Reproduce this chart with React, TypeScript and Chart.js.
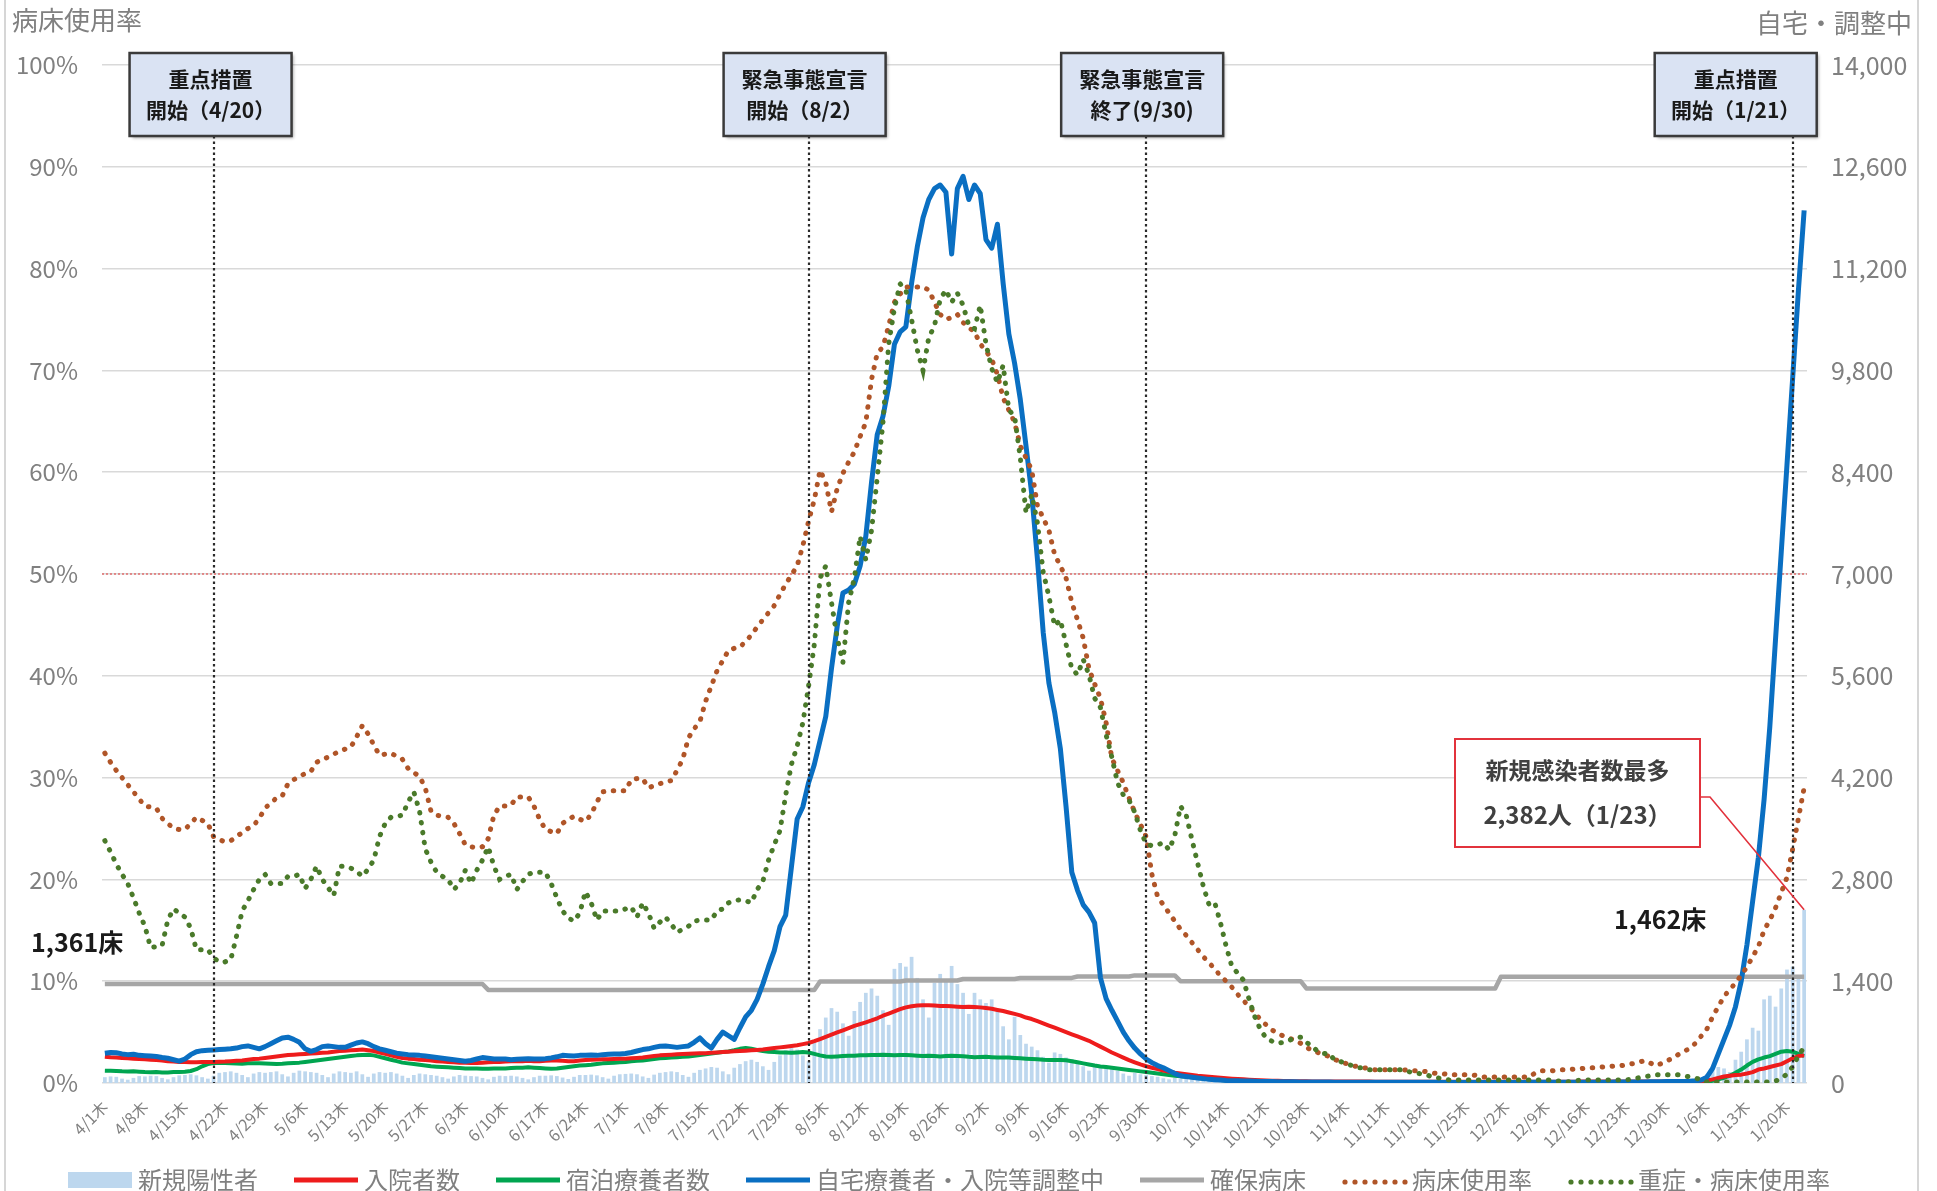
import React, { useEffect, useRef } from 'react';
import { Chart, registerables } from 'chart.js';

Chart.register(...registerables);

const FONT = '"Noto Sans CJK JP", "Noto Sans", sans-serif';

// ---- categories: every day from 2021-04-01 to 2022-01-23 ----
const DATES: string[] = [];
for (let d = new Date(2021, 3, 1); d <= new Date(2022, 0, 23); d.setDate(d.getDate() + 1)) {
  DATES.push(`${d.getMonth() + 1}/${d.getDate()}`);
}

// weekly tick labels (every Thursday)
const TICK_LABELS = [
  '4/1木', '4/8木', '4/15木', '4/22木', '4/29木', '5/6木', '5/13木', '5/20木', '5/27木',
  '6/3木', '6/10木', '6/17木', '6/24木', '7/1木', '7/8木', '7/15木', '7/22木', '7/29木',
  '8/5木', '8/12木', '8/19木', '8/26木', '9/2木', '9/9木', '9/16木', '9/23木', '9/30木',
  '10/7木', '10/14木', '10/21木', '10/28木', '11/4木', '11/11木', '11/18木', '11/25木',
  '12/2木', '12/9木', '12/16木', '12/23木', '12/30木', '1/6木', '1/13木', '1/20木',
];

const LEFT_TICKS = [0, 10, 20, 30, 40, 50, 60, 70, 80, 90, 100];
const RIGHT_TICKS = [0, 1400, 2800, 4200, 5600, 7000, 8400, 9800, 11200, 12600, 14000];

// 新規陽性者 (bars, right axis)
const NEW_CASES = [
  80, 90, 85, 60, 45, 70, 95,
  90, 100, 95, 70, 50, 80, 105,
  110, 120, 105, 80, 60, 100, 140,
  150, 160, 140, 110, 80, 130, 150,
  140, 150, 160, 120, 90, 140, 170,
  160, 150, 140, 110, 80, 130, 160,
  150, 140, 160, 120, 85, 130, 150,
  140, 150, 130, 100, 70, 110, 130,
  120, 110, 100, 80, 60, 90, 110,
  100, 95, 90, 70, 50, 85, 100,
  95, 100, 90, 70, 50, 80, 100,
  100, 105, 95, 75, 55, 85, 110,
  110, 115, 105, 80, 60, 100, 120,
  125, 130, 120, 90, 70, 115, 140,
  150, 160, 150, 110, 85, 140, 180,
  200, 220, 210, 160, 120, 210, 260,
  300, 320, 290, 230, 180, 290, 380,
  450, 480, 460, 380, 300, 560, 740,
  900, 1030, 980, 820, 650, 990, 1115,
  1240, 1300, 1200, 1000, 800, 1570, 1650,
  1600, 1735, 1445, 1150, 900, 1380, 1500,
  1420, 1610, 1360, 1240, 950, 1240, 1150,
  1100, 1150, 1000, 780, 600, 910, 660,
  540, 500, 450, 360, 280, 420, 400,
  350, 330, 300, 230, 170, 260, 240,
  210, 190, 170, 130, 100, 140, 120,
  110, 95, 85, 65, 50, 70, 60,
  55, 50, 45, 35, 25, 40, 35,
  30, 28, 25, 20, 15, 22, 20,
  18, 16, 14, 10, 8, 12, 10,
  10, 9, 8, 6, 5, 8, 7,
  7, 6, 6, 4, 3, 6, 5,
  5, 5, 4, 3, 2, 4, 4,
  4, 3, 3, 2, 2, 3, 3,
  3, 3, 2, 2, 1, 3, 3,
  3, 2, 3, 2, 1, 2, 3,
  3, 3, 2, 2, 1, 3, 3,
  3, 4, 3, 2, 2, 4, 4,
  5, 6, 5, 3, 2, 5, 8,
  10, 15, 20, 18, 15, 40, 70,
  120, 180, 220, 200, 150, 320, 430,
  600, 760, 720, 1150, 1200, 1050, 1300,
  1560, 1600, 1480, 2382,
];

// 入院者数 (right axis)
const HOSPITALIZED = [
  362, 355, 350, 345, 340, 335, 330,
  325, 320, 315, 310, 300, 295, 290,
  290, 285, 285, 288, 290, 290, 292,
  295, 300, 305, 310, 320, 330, 335,
  345, 355, 365, 375, 385, 390, 395,
  400, 405, 410, 415, 420, 430, 440,
  445, 450, 455, 460, 450, 440, 420,
  400, 380, 360, 345, 335, 330, 320,
  315, 310, 300, 295, 290, 285, 280,
  280, 275, 275, 280, 285, 290, 290,
  295, 300, 300, 300, 305, 300, 300,
  305, 310, 310, 305, 300, 300, 310,
  315, 320, 322, 325, 328, 330, 332,
  335, 340, 345, 350, 360, 370, 380,
  385, 390, 395, 400, 402, 405, 408,
  410, 415, 420, 425, 430, 435, 440,
  445, 450, 455, 460, 470, 480, 490,
  500, 510, 520, 535, 550, 575, 605,
  635, 665, 695, 725, 755, 785, 810,
  835, 860, 890, 925, 955, 985, 1015,
  1040, 1055, 1065, 1070, 1070, 1065, 1060,
  1060, 1055, 1050, 1045, 1050, 1045, 1040,
  1030, 1020, 1005, 990, 970, 950, 930,
  900, 880, 850, 820, 790, 760, 730,
  700, 670, 640, 610, 580, 540, 500,
  460, 420, 385, 350, 315, 285, 255,
  230, 210, 190, 170, 155, 140, 130,
  120, 110, 100, 92, 85, 78, 72,
  66, 60, 55, 50, 46, 42, 38,
  35, 32, 30, 28, 26, 25, 24,
  23, 22, 22, 21, 21, 20, 20,
  20, 20, 19, 19, 19, 18, 18,
  18, 18, 18, 17, 17, 17, 17,
  17, 17, 16, 16, 16, 16, 16,
  16, 16, 16, 16, 16, 16, 16,
  16, 16, 17, 17, 17, 17, 17,
  18, 18, 18, 18, 18, 18, 19,
  19, 19, 19, 19, 20, 20, 20,
  20, 20, 20, 20, 20, 20, 20,
  20, 20, 22, 22, 24, 26, 28,
  35, 50, 70, 90, 100, 110, 115,
  130, 150, 185, 200, 220, 240, 260,
  300, 340, 370, 380,
];

// 宿泊療養者数 (right axis)
const HOTEL = [
  170, 168, 165, 160, 158, 160, 155,
  150, 148, 150, 145, 145, 150, 150,
  155, 165, 190, 230, 260, 275, 280,
  275, 270, 268, 265, 270, 272, 270,
  268, 265, 262, 265, 270, 275, 280,
  290, 300, 310, 320, 330, 340, 350,
  360, 370, 380, 385, 388, 380, 360,
  340, 320, 300, 280, 270, 260, 250,
  240, 230, 225, 220, 215, 210, 205,
  200, 200, 198, 195, 195, 198, 200,
  200, 205, 210, 210, 215, 210, 205,
  200, 195, 200, 210, 220, 230, 240,
  245, 250, 260, 270, 275, 280, 285,
  290, 300, 305, 310, 320, 330, 340,
  345, 350, 355, 360, 365, 375, 385,
  395, 405, 415, 425, 435, 450, 470,
  480, 470, 455, 440, 430, 425, 420,
  420, 415, 420, 425, 420, 400, 380,
  365, 360, 365, 370, 375, 375, 380,
  380, 385, 385, 390, 385, 380, 385,
  385, 380, 375, 370, 375, 370, 365,
  370, 375, 372, 368, 360, 355, 358,
  360, 355, 350, 352, 350, 345, 340,
  335, 330, 325, 320, 318, 315, 315,
  312, 300, 285, 270, 255, 240, 228,
  220, 210, 200, 190, 180, 170, 160,
  150, 140, 130, 120, 110, 100, 92,
  85, 78, 70, 62, 55, 48, 42,
  36, 32, 28, 25, 22, 20, 18,
  16, 15, 14, 13, 12, 12, 11,
  11, 10, 10, 10, 9, 9, 9,
  9, 8, 8, 8, 8, 8, 8,
  7, 7, 7, 7, 7, 7, 7,
  7, 7, 6, 6, 6, 6, 6,
  6, 6, 6, 6, 6, 6, 6,
  6, 6, 6, 6, 6, 6, 6,
  6, 6, 6, 6, 6, 6, 6,
  6, 6, 6, 6, 6, 6, 6,
  6, 6, 6, 6, 6, 6, 6,
  6, 6, 6, 6, 6, 8, 10,
  15, 30, 50, 70, 100, 140, 185,
  240, 290, 325, 350, 370, 400, 430,
  440, 430, 400, 370,
];

// 自宅療養者・入院等調整中 (right axis)
const HOME = [
  410, 420, 415, 400, 390, 395, 380,
  375, 370, 365, 350, 340, 320, 300,
  330, 390, 430, 445, 450, 455, 460,
  465, 470, 480, 500, 510, 490, 470,
  500, 540, 580, 620, 630, 600, 560,
  470, 435, 460, 500, 510, 500, 490,
  490, 520, 550, 565, 540, 500, 470,
  450, 430, 410, 400, 390, 385, 380,
  370, 360, 350, 340, 330, 320, 310,
  300, 310, 330, 350, 340, 330, 330,
  330, 320, 325, 330, 335, 330, 330,
  335, 345, 360, 380, 375, 370, 380,
  380, 385, 380, 390, 395, 400, 400,
  405, 420, 440, 460, 470, 490, 505,
  510, 500, 490, 500, 510, 560, 620,
  540, 480, 600, 700, 650, 600, 760,
  910, 1000, 1150, 1360, 1600, 1820, 2150,
  2310, 2970, 3630, 3800, 4130, 4380, 4710,
  5040, 5700, 6280, 6740, 6780, 6860, 7110,
  7520, 8260, 8920, 9170, 9580, 10160, 10330,
  10400, 11000, 11500, 11900, 12150, 12300, 12350,
  12250, 11400, 12300, 12470, 12150, 12350, 12230,
  11600, 11480, 11810, 11000, 10300, 9900, 9400,
  8760, 8100, 7200, 6200, 5500, 5100, 4600,
  3800, 2900, 2650, 2450, 2350, 2200, 1450,
  1160, 1000, 850, 700, 580, 480, 400,
  330, 280, 240, 210, 170, 130, 100,
  90, 80, 70, 60, 50, 45, 40,
  35, 32, 30, 28, 26, 24, 22,
  20, 19, 18, 17, 16, 16, 15,
  15, 14, 14, 13, 13, 12, 12,
  12, 11, 11, 10, 10, 10, 10,
  10, 10, 9, 9, 9, 9, 9,
  9, 9, 9, 8, 8, 8, 8,
  8, 8, 8, 8, 8, 8, 8,
  8, 8, 8, 8, 9, 9, 9,
  9, 9, 10, 10, 10, 10, 11,
  11, 11, 12, 12, 12, 13, 13,
  14, 14, 15, 15, 16, 16, 18,
  20, 20, 20, 22, 25, 30, 40,
  80, 200, 400, 600, 800, 1050, 1400,
  1900, 2500, 3100, 3900, 4900, 6100, 7300,
  8500, 9700, 10900, 12000,
];

// 確保病床 (right axis)
const BEDS = [
  1361, 1361, 1361, 1361, 1361, 1361, 1361,
  1361, 1361, 1361, 1361, 1361, 1361, 1361,
  1361, 1361, 1361, 1361, 1361, 1361, 1361,
  1361, 1361, 1361, 1361, 1361, 1361, 1361,
  1361, 1361, 1361, 1361, 1361, 1361, 1361,
  1361, 1361, 1361, 1361, 1361, 1361, 1361,
  1361, 1361, 1361, 1361, 1361, 1361, 1361,
  1361, 1361, 1361, 1361, 1361, 1361, 1361,
  1361, 1361, 1361, 1361, 1361, 1361, 1361,
  1361, 1361, 1361, 1361, 1280, 1280, 1280,
  1280, 1280, 1280, 1280, 1280, 1280, 1280,
  1280, 1280, 1280, 1280, 1280, 1280, 1280,
  1280, 1280, 1280, 1280, 1280, 1280, 1280,
  1280, 1280, 1280, 1280, 1280, 1280, 1280,
  1280, 1280, 1280, 1280, 1280, 1280, 1280,
  1280, 1280, 1280, 1280, 1280, 1280, 1280,
  1280, 1280, 1280, 1280, 1280, 1280, 1280,
  1280, 1280, 1280, 1280, 1280, 1280, 1395,
  1395, 1395, 1395, 1395, 1395, 1395, 1395,
  1395, 1395, 1395, 1395, 1395, 1395, 1395,
  1410, 1410, 1410, 1410, 1410, 1410, 1410,
  1410, 1410, 1410, 1430, 1430, 1430, 1430,
  1430, 1430, 1430, 1430, 1430, 1430, 1445,
  1445, 1445, 1445, 1445, 1445, 1445, 1445,
  1445, 1445, 1465, 1465, 1465, 1465, 1465,
  1465, 1465, 1465, 1465, 1465, 1480, 1480,
  1480, 1480, 1480, 1480, 1480, 1480, 1400,
  1400, 1400, 1400, 1400, 1400, 1400, 1400,
  1400, 1400, 1400, 1400, 1400, 1400, 1400,
  1400, 1400, 1400, 1400, 1400, 1400, 1400,
  1300, 1300, 1300, 1300, 1300, 1300, 1300,
  1300, 1300, 1300, 1300, 1300, 1300, 1300,
  1300, 1300, 1300, 1300, 1300, 1300, 1300,
  1300, 1300, 1300, 1300, 1300, 1300, 1300,
  1300, 1300, 1300, 1300, 1300, 1300, 1462,
  1462, 1462, 1462, 1462, 1462, 1462, 1462,
  1462, 1462, 1462, 1462, 1462, 1462, 1462,
  1462, 1462, 1462, 1462, 1462, 1462, 1462,
  1462, 1462, 1462, 1462, 1462, 1462, 1462,
  1462, 1462, 1462, 1462, 1462, 1462, 1462,
  1462, 1462, 1462, 1462, 1462, 1462, 1462,
  1462, 1462, 1462, 1462, 1462, 1462, 1462,
  1462, 1462, 1462, 1462,
];

// 病床使用率 (%, left axis)
const BED_RATE = [
  32.4, 31.5, 30.7, 30.0, 29.3, 28.6, 27.9,
  27.2, 27.1, 27.0, 26.0, 25.5, 25.0, 24.9,
  24.9, 25.5, 26.1, 25.8, 25.5, 24.2, 23.9,
  23.7, 23.8, 24.2, 24.6, 25.0, 25.3, 26.0,
  27.0, 27.5, 28.0, 28.2, 29.4, 29.8, 30.1,
  30.4, 30.6, 31.5, 31.8, 32.0, 32.3, 32.6,
  32.8, 33.0, 34.0, 35.1, 34.3, 33.2, 32.2,
  32.3, 32.4, 32.1, 31.8, 30.9, 30.5, 30.1,
  29.0, 26.7, 26.3, 26.2, 26.1, 25.5, 24.5,
  23.4, 23.2, 23.1, 23.2, 24.0, 26.3, 27.2,
  27.2, 27.3, 28.1, 28.1, 28.1, 27.2, 25.9,
  24.9, 24.7, 24.5, 25.5, 25.9, 26.2, 25.9,
  25.7, 26.4, 27.6, 28.6, 28.7, 28.7, 28.7,
  28.7, 29.8, 29.9, 29.9, 29.0, 29.2, 29.4,
  29.6, 29.7, 30.7, 31.8, 33.9, 34.8, 35.5,
  37.5, 39.0, 40.5, 41.5, 42.5, 42.7, 42.8,
  43.4, 44.0, 44.8, 45.5, 46.2, 46.9, 48.0,
  49.0, 49.9, 50.8, 52.8, 55.2, 57.3, 60.2,
  59.0, 56.1, 58.4, 59.9, 61.0, 62.0, 63.5,
  64.9, 69.1, 71.7, 72.3, 74.4, 76.7, 77.5,
  78.2, 78.2, 78.2, 78.2, 77.9, 76.7, 75.5,
  75.0, 75.2, 75.5, 74.7, 74.2, 73.8, 72.6,
  71.9, 71.1, 69.6, 67.3, 66.1, 64.9, 62.6,
  61.4, 60.2, 56.7, 55.5, 54.3, 51.9, 50.8,
  49.6, 47.2, 45.5, 43.7, 40.7, 39.2, 37.8,
  35.4, 31.9, 30.7, 29.5, 28.0, 26.6, 25.4,
  24.2, 20.5, 18.3, 17.5, 16.7, 15.9, 15.1,
  14.5, 13.8, 13.1, 12.4, 11.8, 11.2, 10.5,
  10.0, 9.4, 8.7, 8.1, 7.5, 6.9, 6.2,
  5.7, 5.2, 4.9, 4.6, 4.4, 4.2, 3.9,
  3.5, 3.2, 3.0, 2.8, 2.6, 2.3, 2.1,
  1.9, 1.7, 1.6, 1.5, 1.4, 1.3, 1.3,
  1.3, 1.3, 1.3, 1.3, 1.2, 1.2, 1.2,
  1.1, 1.0, 0.9, 0.9, 0.8, 0.8, 0.8,
  0.8, 0.8, 0.7, 0.6, 0.6, 0.6, 0.6,
  0.6, 0.6, 0.6, 0.6, 0.6, 1.0, 1.2,
  1.2, 1.2, 1.3, 1.3, 1.3, 1.4, 1.4,
  1.5, 1.5, 1.5, 1.6, 1.6, 1.7, 1.7,
  1.8, 1.9, 2.0, 2.2, 2.0, 1.7, 1.9,
  2.2, 2.4, 2.8, 3.1, 3.4, 3.9, 4.6,
  5.3, 6.5, 7.5, 8.5, 9.2, 9.8, 10.6,
  11.4, 12.4, 13.4, 15.0, 16.0, 17.2, 18.7,
  20.2, 23.0, 26.0, 29.0,
];

// 重症・病床使用率 (%, left axis)
const SEVERE_RATE = [
  23.8, 22.7, 21.5, 20.5, 19.6, 18.2, 16.7,
  15.4, 13.3, 13.4, 13.5, 16.0, 17.1, 16.7,
  16.3, 15.2, 13.1, 13.1, 13.1, 12.3, 11.9,
  11.9, 12.1, 14.4, 16.9, 17.9, 19.0, 20.0,
  20.5, 19.6, 19.6, 19.6, 20.3, 20.3, 20.5,
  19.1, 20.0, 21.3, 20.0, 19.2, 18.4, 21.3,
  21.3, 21.1, 20.8, 20.3, 21.0, 21.9, 24.2,
  25.5, 26.1, 26.2, 26.3, 27.6, 28.6, 26.7,
  23.0, 21.7, 20.7, 20.3, 20.0, 19.0, 19.6,
  20.9, 19.6, 20.9, 21.9, 23.2, 21.3, 20.0,
  20.3, 20.5, 19.0, 19.8, 20.5, 20.7, 20.7,
  20.7, 19.6, 18.2, 16.9, 16.2, 15.9, 16.7,
  18.8, 17.7, 16.0, 16.9, 16.9, 16.9, 16.9,
  17.1, 17.3, 16.3, 17.7, 16.7, 15.2, 15.8,
  16.3, 15.6, 14.8, 15.1, 15.4, 15.9, 16.0,
  16.0, 16.0, 16.9, 17.1, 17.7, 17.9, 18.0,
  17.9, 17.7, 19.0, 19.8, 21.9, 23.4, 24.8,
  28.3, 31.3, 33.1, 35.4, 39.0, 43.1, 49.6,
  50.8, 47.2, 43.7, 41.3, 47.2, 49.6, 53.7,
  51.4, 54.3, 59.5, 64.9, 72.6, 76.1, 78.5,
  77.9, 75.0, 72.0, 70.0, 73.2, 74.4, 77.0,
  77.9, 76.7, 77.6, 76.4, 74.4, 74.1, 76.4,
  72.6, 70.2, 68.8, 70.5, 66.1, 65.5, 61.4,
  56.0, 57.8, 55.0, 50.2, 47.8, 44.9, 45.5,
  43.1, 40.7, 40.1, 41.6, 40.1, 37.8, 36.9,
  34.2, 32.0, 29.5, 28.3, 27.8, 26.6, 24.8,
  23.5, 23.3, 23.4, 23.6, 22.9, 24.3, 27.2,
  26.3, 23.9, 21.6, 19.3, 17.5, 17.7, 15.7,
  13.4, 11.4, 10.8, 10.1, 8.2, 6.5, 5.2,
  4.4, 4.1, 3.9, 4.0, 4.2, 4.4, 4.5,
  4.0, 3.6, 3.1, 2.9, 2.9, 2.2, 2.1,
  1.9, 1.7, 1.5, 1.5, 1.3, 1.3, 1.3,
  1.3, 1.3, 1.3, 1.3, 1.1, 1.0, 0.9,
  0.8, 0.6, 0.5, 0.4, 0.3, 0.3, 0.3,
  0.3, 0.3, 0.3, 0.3, 0.3, 0.3, 0.3,
  0.3, 0.3, 0.3, 0.3, 0.3, 0.3, 0.3,
  0.3, 0.3, 0.2, 0.2, 0.1, 0.2, 0.3,
  0.3, 0.3, 0.3, 0.3, 0.3, 0.3, 0.3,
  0.3, 0.4, 0.5, 0.6, 0.7, 0.8, 0.8,
  0.8, 0.8, 0.8, 0.7, 0.6, 0.5, 0.3,
  0.1, 0.1, 0.1, 0.1, 0.1, 0.1, 0.1,
  0.1, 0.1, 0.1, 0.1, 0.1, 0.2, 0.4,
  0.9, 1.6, 2.7, 3.5,
];

// ---- annotations ----
const EVENTS = [
  { date: '4/20', lines: ['重点措置', '開始（4/20）'], shift: -84 },
  { date: '8/2', lines: ['緊急事態宣言', '開始（8/2）'], shift: -85 },
  { date: '9/30', lines: ['緊急事態宣言', '終了(9/30)'], shift: -85 },
  { date: '1/21', lines: ['重点措置', '開始（1/21）'], shift: -138 },
];
const PEAK_DATE = '1/23';
const PEAK_LINES = ['新規感染者数最多', '2,382人（1/23）'];
const BED_LABELS = [
  { text: '1,361床', x: 31, y: 942 },
  { text: '1,462床', x: 1614, y: 919 },
];

const C_BAR = '#bdd7ee';
const C_RED = '#ee1c1c';
const C_GREEN = '#00a550';
const C_BLUE = '#0a6fc2';
const C_GRAY = '#a6a6a6';
const C_BROWN = '#b05528';
const C_DKGREEN = '#4a7a2a';
const C_TEXT = '#808080';

const LEGEND = [
  { label: '新規陽性者', kind: 'bar', color: C_BAR },
  { label: '入院者数', kind: 'line', color: C_RED },
  { label: '宿泊療養者数', kind: 'line', color: C_GREEN },
  { label: '自宅療養者・入院等調整中', kind: 'line', color: C_BLUE },
  { label: '確保病床', kind: 'line', color: C_GRAY },
  { label: '病床使用率', kind: 'dot', color: C_BROWN },
  { label: '重症・病床使用率', kind: 'dot', color: C_DKGREEN },
];

const decorPlugin = {
  id: 'decor',
  beforeDatasetsDraw(chart: any) {
    const { ctx, chartArea, scales } = chart;
    const y50 = scales.y.getPixelForValue(50);
    ctx.save();
    ctx.strokeStyle = '#e05050';
    ctx.lineWidth = 1.2;
    ctx.setLineDash([2, 2]);
    ctx.beginPath();
    ctx.moveTo(chartArea.left, y50);
    ctx.lineTo(chartArea.right, y50);
    ctx.stroke();
    ctx.restore();
  },
  afterDatasetsDraw(chart: any) {
    const { ctx, chartArea, scales } = chart;
    ctx.save();
    ctx.strokeStyle = '#2a2a2a';
    ctx.lineWidth = 2.2;
    ctx.setLineDash([2.5, 3]);
    EVENTS.forEach((ev) => {
      const x = Math.round(scales.x.getPixelForValue(DATES.indexOf(ev.date)));
      ctx.beginPath();
      ctx.moveTo(x, 136);
      ctx.lineTo(x, chartArea.bottom);
      ctx.stroke();
    });
    ctx.restore();
  },
  afterDraw(chart: any) {
    const { ctx, scales, height } = chart;
    ctx.save();
    // frame lines
    ctx.strokeStyle = '#d6d6d6';
    ctx.lineWidth = 2;
    ctx.beginPath();
    ctx.moveTo(5, 0); ctx.lineTo(5, height);
    ctx.moveTo(1918, 0); ctx.lineTo(1918, height);
    ctx.stroke();

    // axis titles
    ctx.fillStyle = C_TEXT;
    ctx.font = `26px ${FONT}`;
    ctx.textBaseline = 'middle';
    ctx.textAlign = 'left';
    ctx.fillText('病床使用率', 12, 20);
    ctx.textAlign = 'right';
    ctx.fillText('自宅・調整中', 1912, 23);

    // event boxes
    EVENTS.forEach((ev) => {
      const x = scales.x.getPixelForValue(DATES.indexOf(ev.date));
      const bx = x + ev.shift;
      const by = 53;
      const bw = 162;
      const bh = 83;
      ctx.save();
      ctx.shadowColor = 'rgba(0,0,0,0.35)';
      ctx.shadowOffsetX = 2;
      ctx.shadowOffsetY = 2;
      ctx.shadowBlur = 3;
      ctx.fillStyle = '#dae3f3';
      ctx.fillRect(bx, by, bw, bh);
      ctx.restore();
      ctx.strokeStyle = '#3a3a3a';
      ctx.lineWidth = 2.5;
      ctx.setLineDash([]);
      ctx.strokeRect(bx, by, bw, bh);
      ctx.fillStyle = '#1a1a1a';
      ctx.font = `bold 21px ${FONT}`;
      ctx.textAlign = 'center';
      ctx.textBaseline = 'middle';
      ctx.fillText(ev.lines[0], bx + bw / 2, by + 26);
      ctx.fillText(ev.lines[1], bx + bw / 2, by + 57);
    });

    // peak callout
    const pi = DATES.indexOf(PEAK_DATE);
    const px = scales.x.getPixelForValue(pi);
    const py = scales.y1.getPixelForValue(NEW_CASES[pi]);
    const cx = 1455, cy = 739, cw = 245, ch = 108;
    ctx.fillStyle = '#ffffff';
    ctx.fillRect(cx, cy, cw, ch);
    ctx.strokeStyle = '#e2323c';
    ctx.lineWidth = 2;
    ctx.strokeRect(cx, cy, cw, ch);
    ctx.beginPath();
    ctx.lineWidth = 1.6;
    ctx.moveTo(cx + cw, cy + 58);
    ctx.lineTo(cx + cw + 10, cy + 58);
    ctx.lineTo(px, py);
    ctx.stroke();
    ctx.fillStyle = '#404040';
    ctx.font = `bold 23px ${FONT}`;
    ctx.textAlign = 'center';
    ctx.textBaseline = 'middle';
    ctx.fillText(PEAK_LINES[0], cx + cw / 2, cy + 31);
    ctx.font = `bold 24px ${FONT}`;
    ctx.fillText(PEAK_LINES[1], cx + cw / 2, cy + 76);

    // bed labels
    ctx.fillStyle = '#1a1a1a';
    ctx.font = `bold 25px ${FONT}`;
    ctx.textAlign = 'left';
    BED_LABELS.forEach((b) => ctx.fillText(b.text, b.x, b.y));

    // legend
    ctx.font = `24px ${FONT}`;
    ctx.textBaseline = 'middle';
    const ly = 1180;
    let lx = 68;
    LEGEND.forEach((it) => {
      const sw = 64;
      if (it.kind === 'bar') {
        ctx.fillStyle = it.color;
        ctx.fillRect(lx, ly - 8, sw, 16);
      } else if (it.kind === 'line') {
        ctx.strokeStyle = it.color;
        ctx.lineWidth = 5;
        ctx.setLineDash([]);
        ctx.beginPath();
        ctx.moveTo(lx, ly);
        ctx.lineTo(lx + sw, ly);
        ctx.stroke();
      } else {
        ctx.fillStyle = it.color;
        for (let k = 0; k < 7; k++) {
          ctx.beginPath();
          ctx.arc(lx + 3 + k * 10, ly + 2, 2.6, 0, Math.PI * 2);
          ctx.fill();
        }
      }
      ctx.fillStyle = C_TEXT;
      ctx.textAlign = 'left';
      ctx.fillText(it.label, lx + sw + 6, ly);
      lx += sw + 6 + ctx.measureText(it.label).width + 36;
    });
    ctx.restore();
  },
};

export default function App() {
  const ref = useRef<HTMLCanvasElement | null>(null);
  useEffect(() => {
    if (!ref.current) return;
    Chart.defaults.font.family = FONT;
    const dotted = {
      type: 'line' as const,
      yAxisID: 'y',
      borderWidth: 5,
      borderDash: [0.5, 9.5],
      borderCapStyle: 'round' as const,
      pointRadius: 0,
      fill: false,
      tension: 0,
    };
    const solid = {
      type: 'line' as const,
      yAxisID: 'y1',
      pointRadius: 0,
      fill: false,
      tension: 0,
      borderJoinStyle: 'round' as const,
    };
    const chart = new Chart(ref.current, {
      data: {
        labels: DATES,
        datasets: [
          { ...dotted, label: '重症・病床使用率', data: SEVERE_RATE, borderColor: C_DKGREEN, order: 1 },
          { ...dotted, label: '病床使用率', data: BED_RATE, borderColor: C_BROWN, order: 2 },
          { ...solid, label: '自宅療養者・入院等調整中', data: HOME, borderColor: C_BLUE, borderWidth: 5, order: 3 },
          { ...solid, label: '入院者数', data: HOSPITALIZED, borderColor: C_RED, borderWidth: 4, order: 4 },
          { ...solid, label: '宿泊療養者数', data: HOTEL, borderColor: C_GREEN, borderWidth: 4, order: 5 },
          { ...solid, label: '確保病床', data: BEDS, borderColor: C_GRAY, borderWidth: 4.5, order: 6 },
          {
            type: 'bar' as const,
            label: '新規陽性者',
            yAxisID: 'y1',
            data: NEW_CASES,
            backgroundColor: C_BAR,
            barPercentage: 0.65,
            categoryPercentage: 1,
            order: 10,
          },
        ],
      } as any,
      options: {
        responsive: false,
        animation: false,
        devicePixelRatio: 1,
        layout: { padding: { top: 65, left: 0, right: 0, bottom: 0 } },
        plugins: { legend: { display: false }, tooltip: { enabled: false } },
        scales: {
          x: {
            type: 'category',
            offset: true,
            grid: { display: false },
            border: { display: false },
            ticks: {
              autoSkip: false,
              maxRotation: 45,
              minRotation: 45,
              padding: 6,
              color: C_TEXT,
              font: { size: 16, family: FONT },
              callback: (_v: any, i: number) => (i % 7 === 0 ? TICK_LABELS[i / 7] : ''),
            },
            afterFit: (s: any) => { s.height = 108; },
          },
          y: {
            position: 'left',
            min: 0,
            max: 100,
            afterBuildTicks: (s: any) => { s.ticks = LEFT_TICKS.map((v) => ({ value: v })); },
            grid: { color: '#d9d9d9', lineWidth: 1.5, drawTicks: false },
            border: { display: false },
            ticks: {
              padding: 24,
              color: C_TEXT,
              font: { size: 24, family: FONT },
              callback: (v: any) => `${v}%`,
            },
            afterFit: (s: any) => { s.width = 102; },
          },
          y1: {
            position: 'right',
            min: 0,
            max: 14000,
            afterBuildTicks: (s: any) => { s.ticks = RIGHT_TICKS.map((v) => ({ value: v })); },
            grid: { display: false, drawTicks: false },
            border: { display: false },
            ticks: {
              padding: 24,
              color: C_TEXT,
              font: { size: 25, family: FONT },
              callback: (v: any) => Number(v).toLocaleString('en-US'),
            },
            afterFit: (s: any) => { s.width = 130; },
          },
        },
      } as any,
      plugins: [decorPlugin],
    });
    return () => chart.destroy();
  }, []);

  return (
    <div style={{ position: 'absolute', left: 0, top: 0, width: 1937, height: 1191, background: '#fff' }}>
      <canvas ref={ref} width={1937} height={1191} style={{ display: 'block' }} />
    </div>
  );
}
